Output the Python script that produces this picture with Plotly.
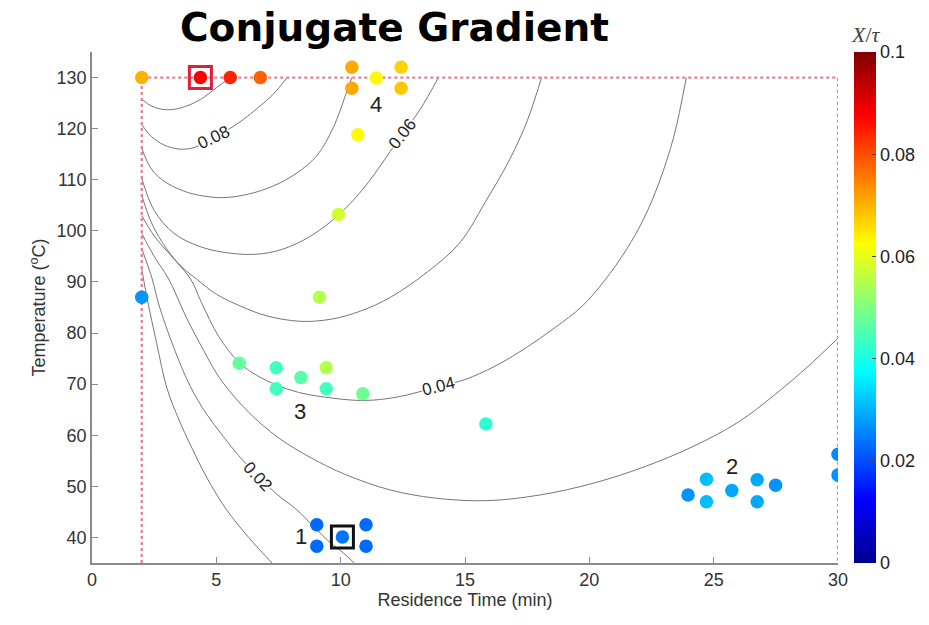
import plotly.graph_objects as go

# ---------------- data ----------------
# measured experiments: residence time (min), temperature (C), X/tau
time_min = [2.0, 4.36, 5.56, 6.77, 10.45, 10.45, 11.43, 12.43, 12.43, 10.69, 9.91, 9.15, 2.0,
            5.92, 7.41, 7.41, 8.40, 9.42, 9.42, 10.89, 15.84,
            9.04, 9.04, 10.07, 11.02, 11.02,
            23.97, 24.71, 24.71, 25.73, 26.75, 26.75, 27.49, 30.0, 30.0]
temp_c = [130, 130, 130, 130, 132.0, 127.9, 129.9, 132.0, 127.9, 118.8, 103.2, 87.0, 87.0,
          74.1, 73.2, 69.1, 71.3, 73.2, 69.1, 68.1, 62.2,
          42.5, 38.3, 40.1, 42.5, 38.3,
          48.3, 51.4, 47.0, 49.2, 51.3, 47.0, 50.2, 56.3, 52.2]
x_over_tau = [0.070, 0.088, 0.084, 0.078, 0.071, 0.071, 0.063, 0.067, 0.068, 0.063, 0.058, 0.055, 0.027,
              0.047, 0.044, 0.044, 0.046, 0.055, 0.044, 0.048, 0.042,
              0.023, 0.023, 0.024, 0.023, 0.023,
              0.027, 0.031, 0.031, 0.029, 0.029, 0.029, 0.027, 0.026, 0.027]

# optimum found (boxed points)
opt_x = [4.36, 10.07]
opt_y = [130.0, 40.1]

# contour lines of X/tau
c009_x = [2.0, 2.4, 3.0, 3.6, 4.36, 5.0, 5.56]
c009_y = [125.8, 124.4, 123.7, 124.1, 125.7, 128.0, 130.0]
c008_x = [2.0, 2.4, 2.9, 3.5, 4.1, 4.9, 5.8, 6.7, 7.3, 7.84]
c008_y = [120.8, 118.4, 116.8, 116.0, 116.3, 118.3, 120.8, 124.2, 126.8, 130.0]
c007_x = [2.0, 2.4, 3.0, 3.8, 4.5, 5.3, 6.3, 7.3, 8.2, 9.04, 9.7, 10.25, 10.45]
c007_y = [116.2, 112.0, 109.4, 107.6, 106.8, 106.5, 107.2, 108.8, 111.2, 114.7, 120.2, 127.3, 130.0]
c006_x = [2.0, 2.5, 3.3, 4.3, 5.3, 6.5, 7.6, 8.8, 9.98, 11.0, 11.99, 12.46, 13.2, 13.93]
c006_y = [110.3, 104.0, 99.5, 97.0, 95.8, 95.4, 96.3, 99.0, 103.4, 108.8, 115.5, 118.8, 123.8, 130.0]
c005_x = [2.0, 2.4, 3.0, 3.6, 4.22, 5.0, 5.96, 7.0, 8.37, 9.6, 10.8, 12.0, 13.5, 14.8, 15.8, 16.8, 17.5, 18.08]
c005_y = [107.0, 101.5, 96.5, 93.0, 90.5, 87.6, 85.3, 83.4, 82.3, 82.7, 84.3, 87.0, 92.0, 97.7, 105.5, 114.0, 121.5, 130.0]
c004_x = [2.0, 2.5, 3.2, 3.96, 4.4, 5.1, 5.9, 6.6, 7.44, 8.3, 9.31, 10.9, 12.3, 13.9, 15.0, 16.2,
          17.48, 18.6, 19.7, 20.6, 21.5, 22.2, 22.8, 23.4, 23.9]
c004_y = [103.0, 99.0, 95.0, 90.6, 86.0, 79.3, 74.3, 71.8, 69.8, 68.4, 67.5, 66.8, 67.5, 69.5, 70.9, 73.5,
          77.2, 81.0, 85.2, 90.2, 96.4, 102.5, 109.4, 118.5, 130.0]
c003_x = [2.0, 2.5, 3.08, 3.8, 4.5, 5.16, 6.3, 7.5, 8.8, 10.2, 11.99, 13.8, 15.87, 18.0, 20.15,
          22.2, 24.17, 26.0, 27.5, 28.8, 30.0]
c003_y = [99.5, 95.0, 90.6, 83.0, 76.5, 71.0, 64.5, 59.5, 55.6, 52.3, 49.3, 47.7, 47.2, 48.3, 50.6,
          53.8, 57.8, 62.6, 68.1, 73.5, 79.0]
c002_x = [2.0, 2.42, 2.68, 3.3, 3.96, 4.6, 5.29, 5.9, 6.7, 7.4, 8.24, 8.9, 9.58, 10.1, 10.55]
c002_y = [96.5, 90.6, 85.7, 77.0, 69.5, 64.2, 59.7, 56.0, 51.9, 48.6, 45.4, 42.2, 39.0, 37.0, 35.0]
c001_x = [2.0, 2.22, 2.6, 3.02, 3.5, 3.96, 4.63, 5.4, 6.3, 7.24]
c001_y = [92.5, 86.7, 78.0, 69.1, 63.0, 58.1, 51.6, 45.5, 40.0, 35.0]

# contour labels
clabel_text = ['0.08', '0.06', '0.04', '0.02']
clabel_x = [4.9, 12.5, 13.93, 6.65]
clabel_y = [118.3, 119.0, 69.5, 51.9]

# region labels
region_text = ['1', '2', '3', '4']
region_x = [8.4, 25.75, 8.37, 11.43]
region_y = [40.2, 53.9, 64.6, 124.7]

# constraint boundary (dotted)
bound_x = [2, 2, 30, 30]
bound_y = [35, 130, 130, 35]

x_ticks = [0, 5, 10, 15, 20, 25, 30]
y_ticks = [40, 50, 60, 70, 80, 90, 100, 110, 120, 130]
cb_ticks = [0, 0.02, 0.04, 0.06, 0.08, 0.1]
cb_labels = ['0', '0.02', '0.04', '0.06', '0.08', '0.1']

# ---------------- figure ----------------
jet = [[0.0, '#00008f'], [0.125, '#0000ff'], [0.375, '#00ffff'],
       [0.625, '#ffff00'], [0.875, '#ff0000'], [1.0, '#800000']]

fig = go.Figure()

contours = [(c009_x, c009_y), (c008_x, c008_y), (c007_x, c007_y), (c006_x, c006_y),
            (c005_x, c005_y), (c004_x, c004_y), (c003_x, c003_y), (c002_x, c002_y),
            (c001_x, c001_y)]
for cx, cy in contours:
    fig.add_trace(go.Scatter(x=cx, y=cy, mode='lines',
                             line=dict(color='#767676', width=1.0, shape='spline', smoothing=1.0),
                             hoverinfo='skip', showlegend=False))

fig.add_trace(go.Scatter(x=bound_x, y=bound_y, mode='lines',
                         line=dict(color='#e08298', width=2.3, dash='dot'),
                         hoverinfo='skip', showlegend=False))

fig.add_trace(go.Scatter(
    x=time_min, y=temp_c, mode='markers', showlegend=False,
    marker=dict(size=13.5, color=x_over_tau, colorscale=jet, cmin=0, cmax=0.1,
                line=dict(width=0), showscale=True,
                colorbar=dict(x=1.022, xanchor='left', xpad=0, y=0.5, yanchor='middle',
                              len=1.0, lenmode='fraction', ypad=0, thickness=22,
                              outlinewidth=0, tickvals=cb_ticks, ticktext=cb_labels,
                              ticks='inside', ticklen=4, tickcolor='#444',
                              tickfont=dict(family='Liberation Sans, Arial', size=18, color='#222')))))

fig.add_trace(go.Scatter(x=opt_x, y=opt_y, mode='markers', showlegend=False, hoverinfo='skip',
                         marker=dict(symbol='square-open', size=22,
                                     color=['#e0203a', '#111111'],
                                     line=dict(width=3, color=['#e0203a', '#111111']))))

annotations = []
angles = [-25, -52, -14, 47]
for t, x, y, a in zip(clabel_text, clabel_x, clabel_y, angles):
    annotations.append(dict(x=x, y=y, xref='x', yref='y', text=t, showarrow=False,
                            textangle=a, bgcolor='white', borderpad=0,
                            font=dict(family='Liberation Sans, Arial', size=17, color='#222')))
for t, x, y in zip(region_text, region_x, region_y):
    annotations.append(dict(x=x, y=y, xref='x', yref='y', text=t, showarrow=False,
                            font=dict(family='Liberation Sans, Arial', size=22, color='#222')))
annotations.append(dict(x=0.406, y=1.047, xref='paper', yref='paper', text='<b>Conjugate Gradient</b>',
                        showarrow=False, xanchor='center', yanchor='middle',
                        font=dict(family='DejaVu Sans', size=39, color='black')))
annotations.append(dict(x=1.0375, y=1.035, xref='paper', yref='paper', text='<i>X</i>/<i>τ</i>',
                        showarrow=False, xanchor='center', yanchor='middle',
                        font=dict(family='Liberation Serif', size=22, color='#444')))

fig.update_layout(
    width=929, height=625,
    margin=dict(l=92, r=91, t=52, b=62, autoexpand=False),
    paper_bgcolor='white', plot_bgcolor='white',
    annotations=annotations,
    xaxis=dict(range=[0, 30], tickvals=x_ticks, showgrid=False, zeroline=False, automargin=False,
               showline=True, linecolor='#8a8a8a', linewidth=1.5, ticks='inside', ticklen=6,
               tickcolor='#8a8a8a', tickfont=dict(family='Liberation Sans, Arial', size=18, color='#333'),
               title=dict(text='Residence Time (min)', standoff=4,
                          font=dict(family='Liberation Sans, Arial', size=18, color='#333'))),
    yaxis=dict(range=[35, 135], tickvals=y_ticks, showgrid=False, zeroline=False, automargin=False,
               showline=True, linecolor='#8a8a8a', linewidth=1.5, ticks='inside', ticklen=6,
               tickcolor='#8a8a8a', tickfont=dict(family='Liberation Sans, Arial', size=18, color='#333'),
               title=dict(text='Temperature (<sup>o</sup>C)', standoff=6,
                          font=dict(family='Liberation Sans, Arial', size=18, color='#333'))),
)

# remove the browser's default 8px page margin so the figure fills the window exactly
fig.write_html('out.html', config={'displayModeBar': False},
               post_script="document.body.style.margin='0px';")
